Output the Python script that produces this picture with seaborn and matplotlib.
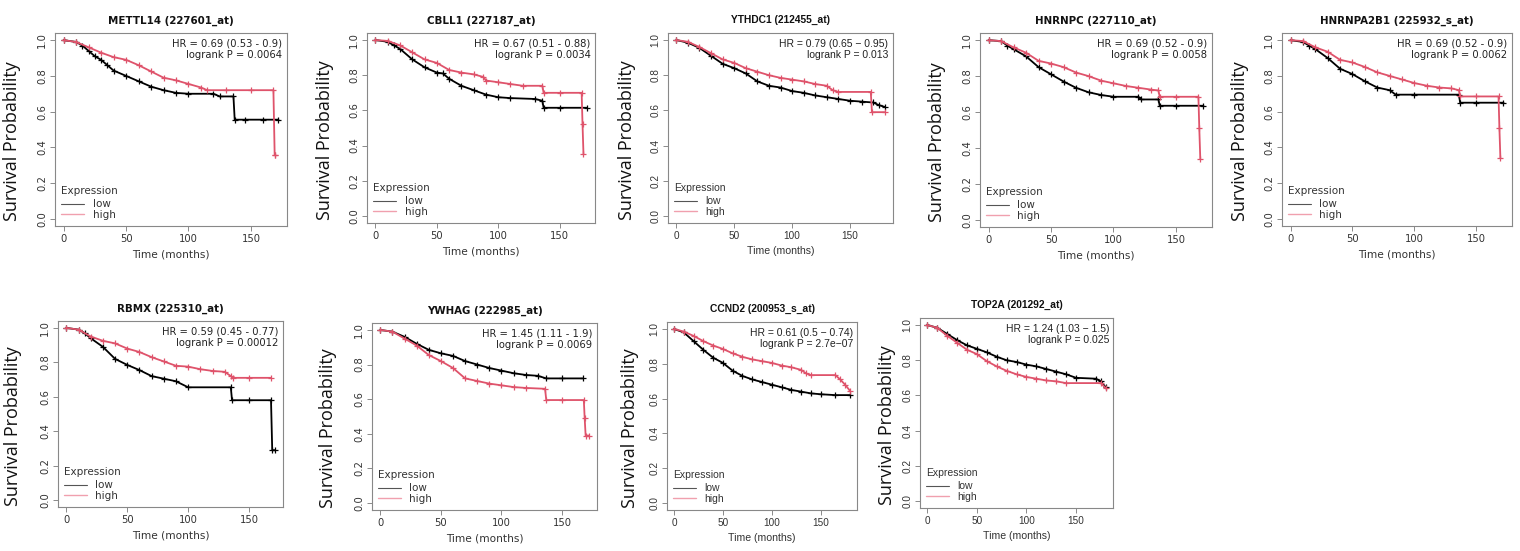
import matplotlib
matplotlib.use("Agg")
import matplotlib.pyplot as plt
import pandas as pd
import seaborn as sns
from matplotlib.lines import Line2D

# ---- data (time in months, survival prob) ----
mettl14_low_t = [0, 10, 15, 20, 25, 30, 35, 40, 50, 60, 70, 80, 90, 100, 120, 125, 136, 137, 145, 160, 172]
mettl14_low_s = [1.0, 0.99, 0.97, 0.94, 0.91, 0.89, 0.86, 0.83, 0.80, 0.77, 0.74, 0.72, 0.705, 0.70, 0.70, 0.685, 0.685, 0.555, 0.555, 0.555, 0.555]
mettl14_high_t = [0, 10, 20, 30, 40, 50, 60, 70, 80, 90, 100, 110, 115, 130, 150, 168, 169, 169.5]
mettl14_high_s = [1.0, 0.99, 0.96, 0.93, 0.905, 0.89, 0.86, 0.825, 0.79, 0.775, 0.755, 0.735, 0.72, 0.72, 0.72, 0.72, 0.36, 0.36]

cbll1_low_t = [0, 10, 15, 20, 30, 40, 50, 55, 60, 70, 80, 90, 100, 110, 130, 136, 137, 150, 172]
cbll1_low_s = [1.0, 0.99, 0.97, 0.95, 0.89, 0.845, 0.815, 0.81, 0.78, 0.74, 0.715, 0.69, 0.675, 0.67, 0.665, 0.655, 0.615, 0.615, 0.615]
cbll1_high_t = [0, 10, 20, 30, 40, 50, 60, 70, 80, 88, 90, 100, 110, 120, 136, 137, 150, 168, 168.7, 169.5]
cbll1_high_s = [1.0, 0.995, 0.97, 0.93, 0.89, 0.87, 0.83, 0.815, 0.805, 0.79, 0.77, 0.76, 0.75, 0.74, 0.74, 0.70, 0.70, 0.70, 0.525, 0.35]

ythdc1_low_t = [0, 10, 20, 30, 40, 50, 60, 70, 80, 90, 100, 110, 120, 130, 140, 150, 160, 170, 175, 180]
ythdc1_low_s = [1.0, 0.985, 0.955, 0.91, 0.865, 0.84, 0.81, 0.765, 0.74, 0.73, 0.71, 0.70, 0.685, 0.675, 0.665, 0.655, 0.65, 0.645, 0.63, 0.62]
ythdc1_high_t = [0, 10, 20, 30, 40, 50, 60, 70, 80, 90, 100, 110, 120, 130, 135, 140, 168, 169, 180]
ythdc1_high_s = [1.0, 0.99, 0.96, 0.925, 0.89, 0.87, 0.84, 0.82, 0.80, 0.785, 0.775, 0.765, 0.75, 0.74, 0.715, 0.705, 0.705, 0.59, 0.59]

hnrnpc_low_t = [0, 10, 15, 20, 30, 40, 50, 60, 70, 80, 90, 100, 120, 122, 136, 137, 150, 172]
hnrnpc_low_s = [1.0, 0.995, 0.97, 0.95, 0.91, 0.85, 0.81, 0.77, 0.735, 0.71, 0.695, 0.685, 0.685, 0.67, 0.67, 0.635, 0.635, 0.635]
hnrnpc_high_t = [0, 10, 20, 30, 40, 50, 60, 70, 80, 90, 100, 110, 120, 130, 136, 137, 150, 168, 168.7, 169.5]
hnrnpc_high_s = [1.0, 0.995, 0.96, 0.93, 0.885, 0.87, 0.85, 0.82, 0.80, 0.775, 0.76, 0.745, 0.735, 0.725, 0.72, 0.685, 0.685, 0.685, 0.51, 0.34]

hnrnpa2b1_low_t = [0, 10, 15, 20, 30, 40, 50, 60, 70, 80, 85, 100, 136, 137, 150, 172]
hnrnpa2b1_low_s = [1.0, 0.99, 0.97, 0.95, 0.90, 0.84, 0.81, 0.77, 0.735, 0.72, 0.695, 0.695, 0.695, 0.65, 0.65, 0.65]
hnrnpa2b1_high_t = [0, 10, 20, 30, 40, 50, 60, 70, 80, 90, 100, 110, 120, 130, 136, 137, 150, 168, 168.7, 169.5]
hnrnpa2b1_high_s = [1.0, 0.995, 0.96, 0.935, 0.89, 0.875, 0.85, 0.82, 0.80, 0.78, 0.76, 0.745, 0.735, 0.73, 0.72, 0.685, 0.685, 0.685, 0.51, 0.34]

rbmx_low_t = [0, 10, 15, 20, 30, 40, 50, 60, 70, 80, 90, 100, 135, 136, 150, 168, 169, 171]
rbmx_low_s = [1.0, 0.99, 0.97, 0.94, 0.89, 0.82, 0.785, 0.755, 0.72, 0.705, 0.69, 0.655, 0.655, 0.58, 0.58, 0.58, 0.29, 0.29]
rbmx_high_t = [0, 10, 20, 30, 40, 50, 60, 70, 80, 90, 100, 110, 120, 130, 135, 137, 150, 168]
rbmx_high_s = [1.0, 0.99, 0.95, 0.925, 0.91, 0.88, 0.86, 0.83, 0.805, 0.78, 0.775, 0.76, 0.75, 0.745, 0.72, 0.71, 0.71, 0.71]

ywhag_low_t = [0, 10, 20, 30, 40, 50, 60, 70, 80, 90, 100, 110, 120, 130, 137, 150, 167]
ywhag_low_s = [1.0, 0.99, 0.96, 0.92, 0.885, 0.865, 0.85, 0.82, 0.80, 0.78, 0.765, 0.75, 0.74, 0.735, 0.72, 0.72, 0.72]
ywhag_high_t = [0, 10, 20, 30, 40, 50, 60, 70, 80, 90, 100, 110, 120, 136, 137, 150, 168, 168.7, 169.5, 172]
ywhag_high_s = [1.0, 0.99, 0.95, 0.91, 0.855, 0.82, 0.78, 0.72, 0.705, 0.69, 0.68, 0.67, 0.665, 0.66, 0.595, 0.595, 0.595, 0.49, 0.39, 0.39]

ccnd2_low_t = [0, 10, 20, 30, 40, 50, 60, 70, 80, 90, 100, 110, 120, 130, 140, 150, 165, 180]
ccnd2_low_s = [1.0, 0.98, 0.93, 0.88, 0.835, 0.805, 0.76, 0.73, 0.71, 0.695, 0.68, 0.665, 0.65, 0.64, 0.63, 0.625, 0.62, 0.62]
ccnd2_high_t = [0, 10, 20, 30, 40, 50, 60, 70, 80, 90, 100, 110, 120, 130, 135, 140, 165, 170, 175, 180]
ccnd2_high_s = [1.0, 0.985, 0.96, 0.93, 0.905, 0.885, 0.86, 0.84, 0.825, 0.815, 0.805, 0.79, 0.78, 0.765, 0.745, 0.735, 0.735, 0.71, 0.68, 0.645]

top2a_low_t = [0, 10, 20, 30, 40, 50, 60, 70, 80, 90, 100, 110, 120, 130, 140, 150, 170, 175, 180]
top2a_low_s = [1.0, 0.985, 0.95, 0.915, 0.885, 0.865, 0.845, 0.82, 0.80, 0.79, 0.775, 0.765, 0.75, 0.735, 0.72, 0.70, 0.695, 0.68, 0.645]
top2a_high_t = [0, 10, 20, 30, 40, 50, 60, 70, 80, 90, 100, 110, 120, 130, 140, 175, 180]
top2a_high_s = [1.0, 0.985, 0.94, 0.90, 0.86, 0.835, 0.795, 0.765, 0.74, 0.72, 0.705, 0.695, 0.685, 0.68, 0.67, 0.67, 0.64]

titles = ["METTL14 (227601_at)", "CBLL1 (227187_at)", "YTHDC1 (212455_at)",
          "HNRNPC (227110_at)", "HNRNPA2B1 (225932_s_at)", "RBMX (225310_at)",
          "YWHAG (222985_at)", "CCND2 (200953_s_at)", "TOP2A (201292_at)"]
hr_labels = ["HR = 0.69 (0.53 - 0.9)", "HR = 0.67 (0.51 - 0.88)", "HR = 0.79 (0.65 \u2212 0.95)",
             "HR = 0.69 (0.52 - 0.9)", "HR = 0.69 (0.52 - 0.9)", "HR = 0.59 (0.45 - 0.77)",
             "HR = 1.45 (1.11 - 1.9)", "HR = 0.61 (0.5 \u2212 0.74)", "HR = 1.24 (1.03 \u2212 1.5)"]
p_labels = ["logrank P = 0.0064", "logrank P = 0.0034", "logrank P = 0.013",
            "logrank P = 0.0058", "logrank P = 0.0062", "logrank P = 0.00012",
            "logrank P = 0.0069", "logrank P = 2.7e\u221207", "logrank P = 0.025"]

curves = [
    (mettl14_low_t, mettl14_low_s, mettl14_high_t, mettl14_high_s),
    (cbll1_low_t, cbll1_low_s, cbll1_high_t, cbll1_high_s),
    (ythdc1_low_t, ythdc1_low_s, ythdc1_high_t, ythdc1_high_s),
    (hnrnpc_low_t, hnrnpc_low_s, hnrnpc_high_t, hnrnpc_high_s),
    (hnrnpa2b1_low_t, hnrnpa2b1_low_s, hnrnpa2b1_high_t, hnrnpa2b1_high_s),
    (rbmx_low_t, rbmx_low_s, rbmx_high_t, rbmx_high_s),
    (ywhag_low_t, ywhag_low_s, ywhag_high_t, ywhag_high_s),
    (ccnd2_low_t, ccnd2_low_s, ccnd2_high_t, ccnd2_high_s),
    (top2a_low_t, top2a_low_s, top2a_high_t, top2a_high_s),
]

# ---- layout: axes boxes in pixels (x0, x1, y0, y1), y-label x pixel, narrow style ----
W, H = 1520, 551
boxes = [(55, 287, 33, 226), (367, 595, 33, 223), (668, 893, 33, 223),
         (980, 1212, 33, 227), (1282, 1512, 33, 226), (58, 283, 321, 507),
         (372, 597, 323, 510), (667, 857, 322, 510), (920, 1113, 318, 508)]
ylab_x = [12, 325, 627, 937, 1240, 13, 328, 630, 887]
narrow = [False, False, True, False, False, False, False, True, True]

LOW_C = "#000000"
HIGH_C = "#DF536B"

sns.set_theme(style="white")
plt.rcParams["font.family"] = ["DejaVu Sans"]


def draw_km(fig, i):
    x0, x1, y0, y1 = boxes[i]
    ax = fig.add_axes([x0 / W, 1 - y1 / H, (x1 - x0) / W, (y1 - y0) / H])
    lt, ls, ht, hs = curves[i]
    fam = ["Liberation Sans"] if narrow[i] else ["DejaVu Sans"]
    fs = 7.2

    for t, s, c in [(lt, ls, LOW_C), (ht, hs, HIGH_C)]:
        df = pd.DataFrame({"time": t, "surv": s})
        sns.lineplot(data=df, x="time", y="surv", ax=ax, color=c, sort=False,
                     estimator=None, linewidth=1.3, marker="+", markersize=4.5,
                     mec=c, mew=0.9)

    xmax = max(max(lt), max(ht))
    ax.set_xlim(-0.04 * xmax, 1.04 * xmax)
    ax.set_ylim(-0.04, 1.04)
    ax.set_xticks([0, 50, 100, 150])
    ax.set_yticks([0, 0.2, 0.4, 0.6, 0.8, 1.0])
    ax.set_yticklabels(["0.0", "0.2", "0.4", "0.6", "0.8", "1.0"], rotation=90, va="center")
    ax.tick_params(direction="out", length=3.5, width=0.6, color="#777777",
                   labelcolor="#333333", labelsize=fs, pad=2, left=True, bottom=True)
    for lab in ax.get_xticklabels() + ax.get_yticklabels():
        lab.set_family(fam)
    for sp in ax.spines.values():
        sp.set_color("#888888")
        sp.set_linewidth(0.8)
    ax.set_ylabel("")
    ax.set_xlabel("Time (months)", fontsize=fs + 0.4, color="#333333", labelpad=4, family=fam)
    ax.set_title(titles[i], fontsize=fs + 0.2, fontweight="bold", pad=7, color="#111111",
                 family=fam)
    ax.text(0.98, 0.97, hr_labels[i] + "\n" + p_labels[i], transform=ax.transAxes,
            ha="right", va="top", fontsize=fs + (0.3 if narrow[i] else 0), color="#222222",
            family=fam, linespacing=1.15)

    handles = [Line2D([], [], color="#555555", lw=0.8), Line2D([], [], color="#F0A0AE", lw=1.0)]
    leg = ax.legend(handles, ["low", "high"], title="Expression", loc="lower left",
                    frameon=False, title_fontsize=fs + 0.3,
                    handlelength=2.2, labelspacing=0.05, borderaxespad=0.2,
                    handletextpad=0.8, alignment="left", prop={"family": fam, "size": fs + 0.3})
    leg.get_title().set_family(fam)
    leg.get_title().set_color("#333333")
    for txt in leg.get_texts():
        txt.set_color("#333333")
    leg._legend_box.sep = 2

    fig.text(ylab_x[i] / W, 1 - ((y0 + y1) / 2 + 12) / H, "Survival Probability",
             rotation=90, ha="center", va="center", fontsize=13,
             family=["Open Sans", "DejaVu Sans"], color="#111111")
    return ax


def main():
    fig = plt.figure(figsize=(15.2, 5.51), dpi=100)
    for i in range(len(titles)):
        draw_km(fig, i)
    fig.savefig("out.png", dpi=100, facecolor="white")


if __name__ == "__main__":
    main()
